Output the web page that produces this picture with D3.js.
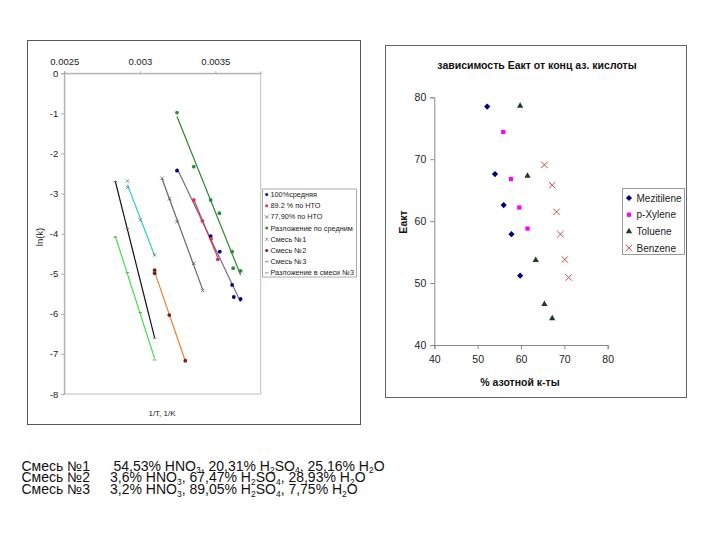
<!DOCTYPE html>
<html>
<head>
<meta charset="utf-8">
<script src="https://cdn.jsdelivr.net/npm/d3@7"></script>
<style>
  body { margin:0; background:#fff; }
  svg { font-family: "Liberation Sans", Arial, sans-serif; }
</style>
</head>
<body>
<div id="chart"></div>
<script>
// ---- left chart: ln(k) vs 1/T ----
var xTicksL = [0.0025, 0.003, 0.0035];
var yTicksL = [0, -1, -2, -3, -4, -5, -6, -7, -8];
var namesL = ["100%средняя", "89.2 %  по НТО", "77,90%  по НТО", "Разложение по средним",
              "Смесь №1", "Смесь №2", "Смесь №3", "Разложение в смеси №3"];
var s100   = [[0.003246,-2.43],[0.003469,-4.06],[0.003529,-4.45],[0.003611,-5.28],[0.003622,-5.58],[0.003667,-5.63]];
var s892   = [[0.003357,-3.16],[0.003414,-3.68],[0.003472,-4.13],[0.003516,-4.64]];
var s779   = [[0.003147,-2.62],[0.003197,-3.13],[0.003246,-3.70],[0.003357,-4.74],[0.003416,-5.42]];
var sRazl  = [[0.003246,-0.98],[0.003357,-2.33],[0.003469,-3.16],[0.003527,-3.49],[0.003611,-4.45],[0.003618,-4.86],[0.003667,-4.93]];
var sMix1  = [[0.002918,-2.69],[0.002918,-2.85],[0.003003,-3.66],[0.003098,-4.53]];
var sMix2  = [[0.003098,-4.91],[0.003098,-4.99],[0.003195,-6.03],[0.003301,-7.17]];
var sMix3  = [[0.002837,-2.70],[0.002918,-3.87],[0.003098,-6.61]];
var sRazl3 = [[0.002837,-4.09],[0.002918,-4.97],[0.003003,-5.97],[0.003098,-7.15]];

// ---- right chart: Eакт vs % HNO3 ----
var namesR = ["Mezitilene", "p-Xylene", "Toluene", "Benzene"];
var mezitilene = [[52.2,78.5],[54.0,67.6],[56.0,62.6],[57.8,57.9],[59.8,51.2]];
var pxylene    = [[55.9,74.4],[57.7,66.8],[59.6,62.2],[61.5,58.8]];
var toluene    = [[59.8,78.6],[61.5,67.3],[63.4,53.7],[65.4,46.6],[67.2,44.3]];
var benzene    = [[65.4,69.1],[67.2,65.8],[68.2,61.5],[69.1,57.9],[70.1,53.8],[71.0,50.9]];
var ticksR = [40, 50, 60, 70, 80];

var svg = d3.select("#chart").append("svg").attr("width", 720).attr("height", 540);

// frames
svg.append("rect").attr("x", 27.5).attr("y", 40.5).attr("width", 333).attr("height", 384)
   .attr("fill", "#fff").attr("stroke", "#555");
svg.append("rect").attr("x", 385.5).attr("y", 45.5).attr("width", 301).attr("height", 352)
   .attr("fill", "#fff").attr("stroke", "#666");

var xL = d3.scaleLinear().domain([0.0025, 0.0038]).range([64.3, 260.7]);
var yL = d3.scaleLinear().domain([0, -8]).range([73.3, 394]);

var gL = svg.append("g");
gL.append("rect").attr("x", xL(0.0025)).attr("y", yL(0))
  .attr("width", xL(0.0038) - xL(0.0025)).attr("height", yL(-8) - yL(0))
  .attr("fill", "none").attr("stroke", "#c0c0c0");

gL.append("g").attr("transform", "translate(" + xL(0.0025) + ",0)")
  .call(d3.axisLeft(yL).tickValues(yTicksL).tickSize(3).tickFormat(function(d){ return String(d); }))
  .call(function(g){ g.select(".domain").attr("stroke", "#aaa");
    g.selectAll("line").attr("stroke", "#aaa");
    g.selectAll("text").attr("font-size", "9.5px").attr("fill", "#222").attr("font-family", null); });

gL.append("g").attr("transform", "translate(0," + yL(0) + ")")
  .call(d3.axisTop(xL).tickValues(xTicksL).tickSize(2).tickPadding(6).tickFormat(function(d){ return String(+d.toFixed(4)); }))
  .call(function(g){ g.select(".domain").attr("stroke", "#aaa");
    g.selectAll("line").attr("stroke", "#aaa");
    g.selectAll("text").attr("font-size", "9.5px").attr("fill", "#222").attr("font-family", null); });

gL.append("text").attr("transform", "translate(43,237) rotate(-90)")
  .attr("text-anchor", "middle").attr("font-size", "9.5px").attr("fill", "#222").text("ln(k)");
gL.append("text").attr("x", 162).attr("y", 416).attr("text-anchor", "middle")
  .attr("font-size", "8px").attr("fill", "#222").text("1/T, 1/K");

function fit(pts) {
  var mx = d3.mean(pts, function(p){return p[0];}), my = d3.mean(pts, function(p){return p[1];});
  var sxy = d3.sum(pts, function(p){return (p[0]-mx)*(p[1]-my);});
  var sxx = d3.sum(pts, function(p){return (p[0]-mx)*(p[0]-mx);});
  var b = sxy / sxx, a = my - b * mx;
  var x0 = d3.min(pts, function(p){return p[0];}), x1 = d3.max(pts, function(p){return p[0];});
  return [[x0, a + b * x0], [x1, a + b * x1]];
}

var seriesL = [
  { data: s100,   marker: "dot",  mcol: "#000080", lcol: "#707088" },
  { data: s892,   marker: "dot",  mcol: "#e0305a", lcol: "#c83a5a" },
  { data: s779,   marker: "x",    mcol: "#555",    lcol: "#666" },
  { data: sRazl,  marker: "dot",  mcol: "#2e8b3a", lcol: "#2a8a2a" },
  { data: sMix1,  marker: "x",    mcol: "#777",    lcol: "#33cccc" },
  { data: sMix2,  marker: "dot",  mcol: "#7a2015", lcol: "#e8842a" },
  { data: sMix3,  marker: "dash", mcol: "#777",    lcol: "#111" },
  { data: sRazl3, marker: "dash", mcol: "#669966", lcol: "#44dd44" }
];

var line = d3.line().x(function(d){return xL(d[0]);}).y(function(d){return yL(d[1]);});

function drawMarker(g, type, col, x, y, s) {
  if (type === "dot") {
    g.append("circle").attr("cx", x).attr("cy", y).attr("r", s || 1.9).attr("fill", col);
  } else if (type === "x") {
    var r = s || 1.8;
    g.append("path").attr("d", "M" + (x-r) + "," + (y-r) + "L" + (x+r) + "," + (y+r) + "M" + (x-r) + "," + (y+r) + "L" + (x+r) + "," + (y-r))
      .attr("stroke", col).attr("stroke-width", 0.8).attr("fill", "none");
  } else {
    g.append("line").attr("x1", x-1.8).attr("x2", x+1.8).attr("y1", y).attr("y2", y)
      .attr("stroke", col).attr("stroke-width", 0.9);
  }
}

seriesL.forEach(function(s){
  gL.append("path").attr("d", line(fit(s.data))).attr("fill", "none")
    .attr("stroke", s.lcol).attr("stroke-width", 1.2);
});
seriesL.forEach(function(s){
  s.data.forEach(function(p){ drawMarker(gL, s.marker, s.mcol, xL(p[0]), yL(p[1])); });
});

// left legend
var legL = gL.append("g").attr("transform", "translate(262.5,189)");
legL.append("rect").attr("width", 94).attr("height", 88).attr("fill", "#fff").attr("stroke", "#aaa");
namesL.forEach(function(n, i){
  var y = 5.5 + i * 11.2;
  drawMarker(legL, seriesL[i].marker, seriesL[i].mcol, 4.2, y, 1.5);
  legL.append("text").attr("x", 8).attr("y", y).attr("dy", "0.35em")
    .attr("font-size", "7.3px").attr("fill", "#222").text(n);
});

// ---- right chart ----
var xR = d3.scaleLinear().domain([40, 80]).range([434.3, 607.7]);
var yR = d3.scaleLinear().domain([40, 80]).range([345, 97.3]);
var gR = svg.append("g");

gR.append("g").attr("transform", "translate(" + xR(40) + ",0)")
  .call(d3.axisLeft(yR).tickValues(ticksR).tickSize(4).tickPadding(4))
  .call(function(g){ g.select(".domain").attr("stroke", "#888");
    g.selectAll("line").attr("stroke", "#888");
    g.selectAll("text").attr("font-size", "10.5px").attr("fill", "#222").attr("font-family", null); });
gR.append("g").attr("transform", "translate(0," + yR(40) + ")")
  .call(d3.axisBottom(xR).tickValues(ticksR).tickSize(4).tickPadding(7))
  .call(function(g){ g.select(".domain").attr("stroke", "#888");
    g.selectAll("line").attr("stroke", "#888");
    g.selectAll("text").attr("font-size", "10.5px").attr("fill", "#222").attr("font-family", null); });

gR.append("text").attr("x", 537).attr("y", 69).attr("text-anchor", "middle")
  .attr("font-size", "10.5px").attr("font-weight", "bold").attr("fill", "#111")
  .text("зависимость Еакт от конц аз. кислоты");
gR.append("text").attr("transform", "translate(407,222) rotate(-90)").attr("text-anchor", "middle")
  .attr("font-size", "10.5px").attr("font-weight", "bold").attr("fill", "#111").text("Еакт");
gR.append("text").attr("x", 520).attr("y", 385.5).attr("text-anchor", "middle")
  .attr("font-size", "10.5px").attr("font-weight", "bold").attr("fill", "#111").text("% азотной к-ты");

var seriesR = [
  { data: mezitilene, sym: "diamond",         size: 3.1, col: "#000080" },
  { data: pxylene,    sym: d3.symbolSquare,   size: 18, col: "#ff00ff" },
  { data: toluene,    sym: d3.symbolTriangle, size: 17, col: "#1e3b1e" },
  { data: benzene,    sym: "x",               size: 3.2, col: "#d04848" }
];
function drawSym(g, s, x, y) {
  var r = s.size;
  if (s.sym === "x") {
    g.append("path").attr("d", "M" + (x-r) + "," + (y-r) + "L" + (x+r) + "," + (y+r) + "M" + (x-r) + "," + (y+r) + "L" + (x+r) + "," + (y-r))
      .attr("stroke", s.col).attr("stroke-width", 1).attr("fill", "none");
  } else if (s.sym === "diamond") {
    g.append("path").attr("d", "M" + x + "," + (y-r) + "L" + (x+r) + "," + y + "L" + x + "," + (y+r) + "L" + (x-r) + "," + y + "Z")
      .attr("fill", s.col);
  } else {
    g.append("path").attr("d", d3.symbol().type(s.sym).size(s.size)())
      .attr("transform", "translate(" + x + "," + y + ")").attr("fill", s.col);
  }
}
seriesR.forEach(function(s){
  s.data.forEach(function(p){ drawSym(gR, s, xR(p[0]), yR(p[1])); });
});

var legR = gR.append("g").attr("transform", "translate(622.5,188.5)");
legR.append("rect").attr("width", 62).attr("height", 66).attr("fill", "#fff").attr("stroke", "#999");
namesR.forEach(function(n, i){
  var y = 9.5 + i * 16.7;
  drawSym(legR, seriesR[i], 6.5, y);
  legR.append("text").attr("x", 14).attr("y", y).attr("dy", "0.35em")
    .attr("font-size", "10px").attr("fill", "#222").text(n);
});

// ---- mixture compositions ----
var mixLabels = ["Смесь №1", "Смесь №2", "Смесь №3"];
var mixHNO3  = ["54,53%", "3,6%", "3,2%"];
var mixH2SO4 = ["20,31%", "67,47%", "89,05%"];
var mixH2O   = ["25,16%", "28,93%", "7,75%"];
var mixX = [113.5, 110, 110];

mixLabels.forEach(function(lab, i){
  var y = 470.5 + i * 11.8;
  svg.append("text").attr("x", 21.5).attr("y", y).attr("font-size", "14px").attr("fill", "#111").text(lab);
  var t = svg.append("text").attr("x", mixX[i]).attr("y", y).attr("font-size", "14px").attr("fill", "#111");
  var parts = [[mixHNO3[i] + " HNO", 0], ["3", 1], [", " + mixH2SO4[i] + " H", 0], ["2", 1], ["SO", 0], ["4", 1],
               [", " + mixH2O[i] + " H", 0], ["2", 1], ["O", 0]];
  parts.forEach(function(p, k){
    var ts = t.append("tspan").text(p[0]);
    if (p[1]) ts.attr("font-size", "8.5px").attr("dy", 2.6);
    else if (k > 0 && parts[k-1][1]) ts.attr("dy", -2.6);
  });
});
</script>
</body>
</html>
